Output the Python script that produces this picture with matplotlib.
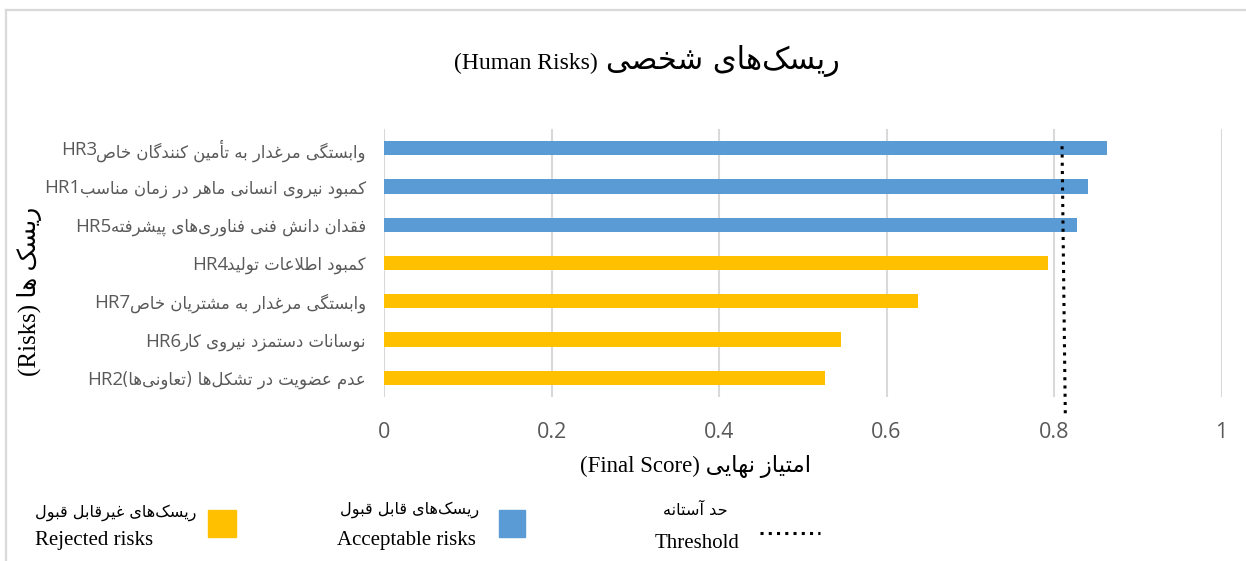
import matplotlib
matplotlib.use("Agg")
import matplotlib.pyplot as plt
from matplotlib.lines import Line2D
from matplotlib.patches import Rectangle
from matplotlib.transforms import blended_transform_factory

# ---------------- data ----------------
codes = ["HR3", "HR1", "HR5", "HR4", "HR7", "HR6", "HR2"]
names = [
    "وابستگی مرغدار به تأمین کنندگان خاص",
    "کمبود نیروی انسانی ماهر در زمان مناسب",
    "فقدان دانش فنی فناوری‌های پیشرفته",
    "کمبود اطلاعات تولید",
    "وابستگی مرغدار به مشتریان خاص",
    "نوسانات دستمزد نیروی کار",
    "عدم عضویت در تشکل‌ها (تعاونی‌ها)",
]
scores = [0.863, 0.841, 0.827, 0.793, 0.638, 0.546, 0.527]
threshold_top = 0.8096
threshold_bottom = 0.8135
xticks = [0, 0.2, 0.4, 0.6, 0.8, 1]
xtick_labels = ["0", "0.2", "0.4", "0.6", "0.8", "1"]

title_fa = "ریسک‌های شخصی"
title_en = "(Human Risks)"
xlabel_fa = "امتیاز نهایی"
xlabel_en = "(Final Score)"
ylabel_fa = "ریسک ها"
ylabel_en = "(Risks)"
legend_fa = ["ریسک‌های غیرقابل قبول", "ریسک‌های قابل قبول", "حد آستانه"]
legend_en = ["Rejected risks", "Acceptable risks", "Threshold"]

BLUE = "#5b9bd5"
YELLOW = "#ffc000"
GRAY_TXT = "#595959"
GRID = "#d9d9d9"

# ---------------- minimal Persian shaper (presentation forms + RTL) ----------------
FORMS = {
    '\u0627': ('\uFE8D', '\uFE8E', None, None),
    '\u0623': ('\uFE83', '\uFE84', None, None),
    '\u0622': ('\uFE81', '\uFE82', None, None),
    '\u0628': ('\uFE8F', '\uFE90', '\uFE91', '\uFE92'),
    '\u067E': ('\uFB56', '\uFB57', '\uFB58', '\uFB59'),
    '\u062A': ('\uFE95', '\uFE96', '\uFE97', '\uFE98'),
    '\u062B': ('\uFE99', '\uFE9A', '\uFE9B', '\uFE9C'),
    '\u062C': ('\uFE9D', '\uFE9E', '\uFE9F', '\uFEA0'),
    '\u0686': ('\uFB7A', '\uFB7B', '\uFB7C', '\uFB7D'),
    '\u062D': ('\uFEA1', '\uFEA2', '\uFEA3', '\uFEA4'),
    '\u062E': ('\uFEA5', '\uFEA6', '\uFEA7', '\uFEA8'),
    '\u062F': ('\uFEA9', '\uFEAA', None, None),
    '\u0630': ('\uFEAB', '\uFEAC', None, None),
    '\u0631': ('\uFEAD', '\uFEAE', None, None),
    '\u0632': ('\uFEAF', '\uFEB0', None, None),
    '\u0698': ('\uFB8A', '\uFB8B', None, None),
    '\u0633': ('\uFEB1', '\uFEB2', '\uFEB3', '\uFEB4'),
    '\u0634': ('\uFEB5', '\uFEB6', '\uFEB7', '\uFEB8'),
    '\u0635': ('\uFEB9', '\uFEBA', '\uFEBB', '\uFEBC'),
    '\u0636': ('\uFEBD', '\uFEBE', '\uFEBF', '\uFEC0'),
    '\u0637': ('\uFEC1', '\uFEC2', '\uFEC3', '\uFEC4'),
    '\u0638': ('\uFEC5', '\uFEC6', '\uFEC7', '\uFEC8'),
    '\u0639': ('\uFEC9', '\uFECA', '\uFECB', '\uFECC'),
    '\u063A': ('\uFECD', '\uFECE', '\uFECF', '\uFED0'),
    '\u0641': ('\uFED1', '\uFED2', '\uFED3', '\uFED4'),
    '\u0642': ('\uFED5', '\uFED6', '\uFED7', '\uFED8'),
    '\u06A9': ('\uFB8E', '\uFB8F', '\uFB90', '\uFB91'),
    '\u06AF': ('\uFB92', '\uFB93', '\uFB94', '\uFB95'),
    '\u0644': ('\uFEDD', '\uFEDE', '\uFEDF', '\uFEE0'),
    '\u0645': ('\uFEE1', '\uFEE2', '\uFEE3', '\uFEE4'),
    '\u0646': ('\uFEE5', '\uFEE6', '\uFEE7', '\uFEE8'),
    '\u0647': ('\uFEE9', '\uFEEA', '\uFEEB', '\uFEEC'),
    '\u0648': ('\uFEED', '\uFEEE', None, None),
    '\u06CC': ('\uFBFC', '\uFBFD', '\uFBFE', '\uFBFF'),
}
LAM_ALEF = {'\u0627': ('\uFEFB', '\uFEFC'),
            '\u0623': ('\uFEF7', '\uFEF8'),
            '\u0622': ('\uFEF5', '\uFEF6')}
MIRROR = {'(': ')', ')': '('}


def fa(s):
    chars = list(s)
    n = len(chars)
    out = []

    def joins_next(c):
        return c in FORMS and FORMS[c][2] is not None

    i = 0
    while i < n:
        c = chars[i]
        if c == '\u200c':
            i += 1
            continue
        if c not in FORMS:
            out.append(MIRROR.get(c, c))
            i += 1
            continue
        prev = chars[i - 1] if i > 0 else None
        cp = prev is not None and joins_next(prev)
        if c == '\u0644' and i + 1 < n and chars[i + 1] in LAM_ALEF:
            iso, fin = LAM_ALEF[chars[i + 1]]
            out.append(fin if cp else iso)
            i += 2
            continue
        nxt = chars[i + 1] if i + 1 < n else None
        cn = joins_next(c) and nxt is not None and nxt in FORMS
        iso, fin, ini, med = FORMS[c]
        if cp and cn:
            g = med
        elif cp:
            g = fin
        elif cn:
            g = ini
        else:
            g = iso
        out.append(g)
        i += 1
    return ''.join(reversed(out))


# ---------------- figure ----------------
W, H = 1246, 561
fig = plt.figure(figsize=(W / 100, H / 100), dpi=100)
fig.patch.set_facecolor("white")
SERIF = ["Liberation Serif", "DejaVu Sans"]

# chart-area border (left & top visible)
fig.add_artist(Line2D([6 / W, 6 / W], [0, 1 - 10 / H], color=GRID, lw=1.6,
                      transform=fig.transFigure))
fig.add_artist(Line2D([6 / W, 1], [1 - 10 / H, 1 - 10 / H], color=GRID, lw=1.6,
                      transform=fig.transFigure))

left, right = 384 / W, 1221.5 / W
top, bottom = 1 - 129 / H, 1 - 397 / H
ax = fig.add_axes([left, bottom, right - left, top - bottom])

ypos = list(range(len(codes)))
colors = [BLUE if s >= threshold_top else YELLOW for s in scores]
ax.barh(ypos, scores, height=0.37, color=colors, zorder=2)
ax.set_xlim(0, 1)
ax.set_ylim(len(codes) - 0.5, -0.5)

ax.set_xticks(xticks)
ax.set_xticklabels(xtick_labels, fontsize=15.5, color=GRAY_TXT, family="Open Sans")
ax.set_yticks(ypos)
ax.set_yticklabels([fa(nm) for nm in names], fontsize=11.9,
                   color=GRAY_TXT, family="DejaVu Sans")
ax.tick_params(axis="both", length=0)
ax.tick_params(axis="x", pad=18)
ax.tick_params(axis="y", pad=13)
for sp in ax.spines.values():
    sp.set_visible(False)
ax.grid(axis="x", color=GRID, lw=1.5, zorder=0)
ax.set_axisbelow(True)

# threshold line (extends below the plot)
ax.plot([threshold_top, threshold_bottom], [-0.05, len(codes) - 0.5 + 0.46],
        color="black", lw=2.2, linestyle=(0, (1, 1.7)), clip_on=False, zorder=3)

# title (Persian part + English part) and axis labels
t_fa = fig.text(840 / W, 1 - 69 / H, fa(title_fa), ha="right", va="baseline",
                fontsize=22, family="DejaVu Sans", color="black")
fig.text(696 / W, 1 - 467 / H, xlabel_en + " " + fa(xlabel_fa), ha="center", va="center",
         fontsize=16.5, family=SERIF, color="black")
fig.text(30 / W, 1 - 291 / H, ylabel_en + " " + fa(ylabel_fa), ha="center", va="center",
         rotation=90, fontsize=18, family=SERIF, color="black")

# place the English/code parts next to the Persian parts
fig.canvas.draw()
rend = fig.canvas.get_renderer()
bb = t_fa.get_window_extent(rend)
fig.text((bb.x0 - 9) / W, 1 - 69 / H, title_en, ha="right", va="baseline",
         fontsize=17, family="Liberation Serif", color="black")
btrans = blended_transform_factory(fig.transFigure, ax.transData)
for lbl, code, y in zip(ax.get_yticklabels(), codes, ypos):
    lb = lbl.get_window_extent(rend)
    ax.text((lb.x0 + 1) / W, y, code, transform=btrans, ha="right", va="center_baseline",
            fontsize=13.5, family="Open Sans", color=GRAY_TXT, clip_on=False)

# custom legend
lg = fig.add_axes([0, 0, 1, 1], zorder=5)
lg.set_xlim(0, W)
lg.set_ylim(H, 0)
lg.axis("off")
lg.patch.set_alpha(0)
lg.add_patch(Rectangle((208, 510), 28, 27, color=YELLOW))
lg.add_patch(Rectangle((499, 510), 26, 27, color=BLUE))
lg.plot([760, 820], [533, 533], color="black", lw=2.2, linestyle=(0, (1, 1.7)))
fa_pos = [(35, 513), (340, 510), (663, 510)]
en_pos = [(35, 541), (337, 540), (655, 543)]
for (x, y), t in zip(fa_pos, legend_fa):
    lg.text(x, y, fa(t), ha="left", va="center", fontsize=11.6, family="DejaVu Sans")
for (x, y), t in zip(en_pos, legend_en):
    lg.text(x, y, t, ha="left", va="center", fontsize=15, family="Liberation Serif")

fig.savefig("out.png", dpi=100)
